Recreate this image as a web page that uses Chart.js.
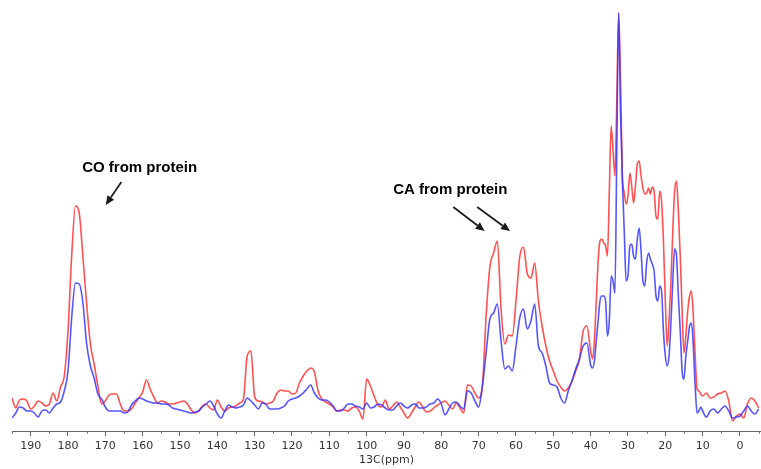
<!DOCTYPE html>
<html lang="en">
<head>
<meta charset="utf-8">
<title>13C spectrum</title>
<script src="https://cdn.jsdelivr.net/npm/chart.js@4.4.1/dist/chart.umd.min.js"></script>
<style>
    html, body { margin: 0; padding: 0; background: #ffffff; }
    #grafico { display: block; }
</style>
</head>
<body>
<canvas id="grafico" width="761" height="469"></canvas>
<script>
const ppm = [
    195, 194, 193, 192, 191, 190, 189, 188, 187, 186,
    185, 184, 183, 182, 181, 180, 179, 178, 177, 176,
    175, 174, 173, 172, 171, 170, 169, 168, 167, 166,
    165, 164, 163, 162, 161, 160, 159, 158, 157, 156,
    155, 154, 153, 152, 151, 150, 149, 148, 147, 146,
    145, 144, 143, 142, 141, 140, 139, 138, 137, 136,
    135, 134, 133, 132, 131, 130, 129, 128, 127, 126,
    125, 124, 123, 122, 121, 120, 119, 118, 117, 116,
    115, 114, 113, 112, 111, 110, 109, 108, 107, 106,
    105, 104, 103, 102, 101, 100, 99, 98, 97, 96,
    95, 94, 93, 92, 91, 90, 89, 88, 87, 86,
    85, 84, 83, 82, 81, 80, 79, 78, 77, 76,
    75, 74, 73, 72, 71, 70, 69, 68, 67, 66,
    65, 64, 63, 62, 61, 60, 59, 58, 57, 56,
    55, 54, 53, 52, 51, 50, 49, 48, 47, 46,
    45, 44, 43, 42, 41,
    40, 39.5, 39, 38.5, 38, 37.5, 37, 36.5, 36, 35.5,
    35, 34.5, 34, 33.5, 33, 32.5, 32, 31.5, 31, 30.5,
    30, 29.5, 29, 28.5, 28, 27.5, 27, 26.5, 26, 25.5,
    25, 24.5, 24, 23.5, 23, 22.5, 22, 21.5, 21, 20.5,
    20, 19.5, 19, 18.5, 18, 17.5, 17, 16.5, 16, 15.5,
    15, 14.5, 14, 13.5, 13, 12.5, 12, 11.5, 11, 10.5,
    10,
    9, 8, 7, 6, 5, 4, 3, 2, 1, 0, -1, -2, -3, -4, -5
];

/* Intensidade do espetro vermelho */
const intensidadeVermelho = [
    33, 23, 31, 32, 30, 22, 25, 30, 28, 25,
    27, 38, 30, 44, 55, 100, 176, 225, 218, 174,
    127, 87, 67, 45, 27, 30, 36, 37, 37, 27,
    20, 20, 22, 28, 33, 39, 51, 42, 34, 28,
    30, 29, 27, 27, 28, 29, 30, 27, 21, 18,
    20, 25, 27, 23, 21, 31, 24, 20, 23, 24,
    25, 28, 32, 75, 80, 34, 30, 29, 27, 28,
    30, 38, 41, 40, 40, 37, 38, 48, 55, 60,
    63, 59, 40, 32, 29, 27, 24, 20, 21, 21,
    20, 23, 24, 20, 12, 52, 45, 35, 26, 24,
    31, 22, 25, 29, 24, 18, 13, 18, 24, 29,
    24, 19, 20, 23, 26, 28, 30, 26, 22, 28,
    23, 18, 46, 45, 38, 33, 45, 115, 164, 178,
    190, 122, 87, 96, 95, 130, 174, 184, 158, 153,
    168, 130, 105, 85, 70, 60, 50, 44, 40, 43,
    50, 60, 72, 100, 105,
    80, 72, 90, 130, 170, 190, 192, 188, 185, 175,
    240, 305, 280, 255, 330, 418, 350, 255, 238, 227,
    235, 258, 245, 228, 245, 267, 270, 255, 243, 237,
    238, 243, 237, 244, 240, 215, 212, 240, 230, 190,
    130, 85, 110, 148, 200, 240, 250, 220, 175, 120,
    78, 95, 120, 135, 140, 115, 75, 42, 40, 37,
    35,
    38, 33, 34, 37, 38, 40, 30, 10, 15, 17, 13, 27, 33, 30, 23
];

/* Intensidade do espetro azul */
const intensidadeAzul = [
    13, 18, 24, 23, 20, 20, 18, 14, 20, 21,
    18, 23, 27, 29, 40, 60, 114, 148, 147, 128,
    87, 65, 53, 37, 32, 24, 20, 20, 20, 20,
    18, 19, 26, 30, 33, 32, 30, 29, 28, 28,
    27, 27, 26, 23, 22, 21, 20, 19, 18, 19,
    20, 24, 27, 30, 25, 17, 13, 20, 26, 24,
    23, 24, 26, 33, 30, 26, 22, 28, 27, 22,
    22, 22, 23, 25, 30, 32, 33, 35, 38, 42,
    46, 38, 33, 31, 31, 29, 25, 20, 20, 23,
    27, 27, 25, 24, 22, 28, 23, 24, 27, 26,
    23, 21, 21, 25, 28, 25, 23, 26, 27, 23,
    23, 24, 27, 28, 32, 27, 16, 22, 28, 29,
    25, 22, 40, 38, 30, 24, 45, 78, 112, 118,
    127, 90, 62, 65, 60, 85, 113, 122, 102, 110,
    127, 85, 78, 65, 48, 46, 44, 33, 28, 40,
    50, 62, 72, 85, 88,
    66, 63, 70, 90, 110, 130, 135, 135, 130, 95,
    110, 155, 150, 138, 280, 418, 320, 250, 200, 150,
    155, 185, 187, 175, 172, 192, 203, 180, 150, 145,
    168, 178, 172, 167, 160, 135, 130, 145, 140, 100,
    75, 65, 75, 108, 150, 182, 175, 135, 100, 60,
    52, 75, 90, 105, 108, 85, 45, 18, 20, 24,
    20,
    14, 20, 22, 18, 22, 25, 20, 13, 14, 15, 20, 25, 20, 17, 22
];

/* Marcas do eixo x */
const ticksPpm = [190, 180, 170, 160, 150, 140, 130, 120, 110, 100, 90, 80, 70, 60, 50, 40, 30, 20, 10, 0];
const ticksMenores = [195, 185, 175, 165, 155, 145, 135, 125, 115, 105, 95, 85, 75, 65, 55, 45, 35, 25, 15, 5, -5];

/* Anotações (em coordenadas ppm / intensidade) */
const textosAnotacao = [
    { texto: 'CO from protein', ppm: 160.8, int: 259 },
    { texto: 'CA from protein', ppm: 77.6, int: 237 }
];

const setasAnotacao = [
    { de: [165.7, 249], para: [169.9, 226] },
    { de: [76.8, 224], para: [68.4, 200] },
    { de: [70.4, 224], para: [61.6, 200] }
];

function pontos(valores) {
    return ppm.map(function (p, i) {
        return { x: p, y: valores[i] };
    });
}

/* Desenha as marcas menores do eixo x */
const pluginTicksMenores = {
    id: 'ticksMenores',
    afterDraw: function (chart) {
        const eixo = chart.scales.x;
        const ctx = chart.ctx;

        ctx.save();
        ctx.strokeStyle = '#666666';
        ctx.lineWidth = 1;
        ctx.beginPath();
        ticksMenores.forEach(function (v) {
            const x = Math.round(eixo.getPixelForValue(v)) + 0.5;
            ctx.moveTo(x, eixo.top);
            ctx.lineTo(x, eixo.top + 2.5);
        });
        ctx.stroke();
        ctx.restore();
    }
};

/* Desenha os textos e as setas */
const pluginAnotacoes = {
    id: 'anotacoes',
    afterDatasetsDraw: function (chart) {
        const ctx = chart.ctx;
        const sx = chart.scales.x;
        const sy = chart.scales.y;

        ctx.save();
        ctx.fillStyle = '#000000';
        ctx.font = 'bold 15px "Liberation Sans", Arial, sans-serif';
        ctx.textAlign = 'center';
        ctx.textBaseline = 'alphabetic';
        textosAnotacao.forEach(function (a) {
            ctx.fillText(a.texto, sx.getPixelForValue(a.ppm), sy.getPixelForValue(a.int));
        });

        ctx.strokeStyle = '#1a1a1a';
        ctx.fillStyle = '#1a1a1a';
        ctx.lineWidth = 1.7;
        setasAnotacao.forEach(function (s) {
            const x1 = sx.getPixelForValue(s.de[0]);
            const y1 = sy.getPixelForValue(s.de[1]);
            const x2 = sx.getPixelForValue(s.para[0]);
            const y2 = sy.getPixelForValue(s.para[1]);
            const ang = Math.atan2(y2 - y1, x2 - x1);
            const comp = 9;
            const larg = 4;
            const bx = x2 - comp * Math.cos(ang);
            const by = y2 - comp * Math.sin(ang);

            ctx.beginPath();
            ctx.moveTo(x1, y1);
            ctx.lineTo(bx, by);
            ctx.stroke();

            ctx.beginPath();
            ctx.moveTo(x2, y2);
            ctx.lineTo(bx + larg * Math.sin(ang), by - larg * Math.cos(ang));
            ctx.lineTo(bx - larg * Math.sin(ang), by + larg * Math.cos(ang));
            ctx.closePath();
            ctx.fill();
        });
        ctx.restore();
    }
};

new Chart(document.getElementById('grafico'), {
    type: 'line',
    data: {
        datasets: [
            {
                label: 'azul',
                data: pontos(intensidadeAzul),
                borderColor: 'rgba(55, 55, 255, 0.85)',
                borderWidth: 1.6,
                pointRadius: 0,
                cubicInterpolationMode: 'monotone',
                fill: false
            },
            {
                label: 'vermelho',
                data: pontos(intensidadeVermelho),
                borderColor: 'rgba(255, 50, 50, 0.85)',
                borderWidth: 1.6,
                pointRadius: 0,
                cubicInterpolationMode: 'monotone',
                fill: false
            }
        ]
    },
    options: {
        responsive: false,
        animation: false,
        layout: {
            padding: { left: 12, top: 10, right: 0, bottom: 0 }
        },
        plugins: {
            legend: { display: false },
            tooltip: { enabled: false }
        },
        scales: {
            x: {
                type: 'linear',
                reverse: true,
                min: -5.63,
                max: 195,
                afterBuildTicks: function (eixo) {
                    eixo.ticks = ticksPpm.map(function (v) {
                        return { value: v };
                    });
                },
                afterFit: function (eixo) {
                    eixo.height = 38;
                },
                grid: {
                    display: true,
                    drawOnChartArea: false,
                    drawTicks: true,
                    tickLength: 5,
                    color: '#666666'
                },
                border: {
                    display: true,
                    color: '#666666',
                    width: 1
                },
                ticks: {
                    padding: 4,
                    color: '#333333',
                    maxRotation: 0,
                    autoSkip: false,
                    font: { family: '"DejaVu Sans", Verdana, sans-serif', size: 11 }
                },
                title: {
                    display: true,
                    text: '13C(ppm)',
                    color: '#333333',
                    padding: { top: 0, bottom: 2 },
                    font: { family: '"DejaVu Sans", Verdana, sans-serif', size: 11 }
                }
            },
            y: {
                display: false,
                min: 0,
                max: 421
            }
        }
    },
    plugins: [pluginTicksMenores, pluginAnotacoes]
});
</script>
</body>
</html>
